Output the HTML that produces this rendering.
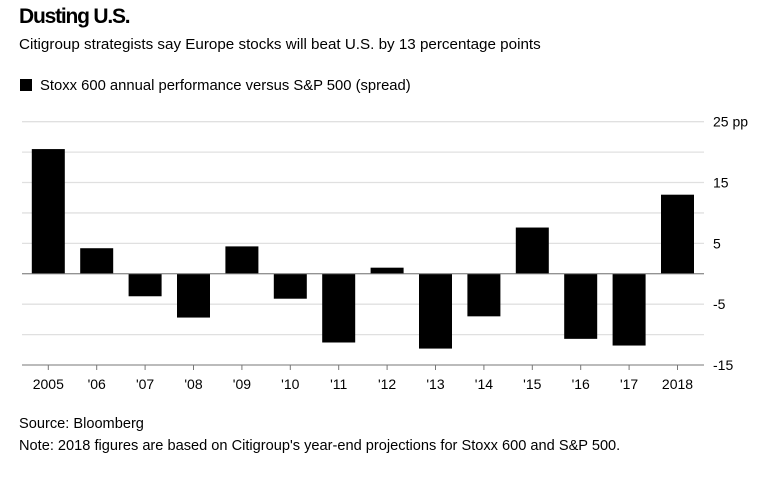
<!DOCTYPE html>
<html><head><meta charset="utf-8"><style>
body{margin:0;background:#fff;font-family:"Liberation Sans",sans-serif;color:#000;}
#wrap{position:relative;width:768px;height:479px;overflow:hidden;}
.t{position:absolute;white-space:nowrap;}
</style></head><body>
<div id="wrap">
<div class="t" style="left:19px;top:5px;font-size:21px;font-weight:bold;letter-spacing:-1.2px;">Dusting U.S.</div>
<div class="t" style="left:19px;top:36px;font-size:15.2px;">Citigroup strategists say Europe stocks will beat U.S. by 13 percentage points</div>
<div class="t" style="left:20px;top:78px;font-size:14.8px;"><span style="display:inline-block;width:12px;height:12px;background:#000;vertical-align:-1px;margin-right:8px;"></span>Stoxx 600 annual performance versus S&amp;P 500 (spread)</div>
<svg id="chart" width="768" height="479" style="position:absolute;left:0;top:0;"></svg>
<div class="t" style="left:19px;top:416px;font-size:14.6px;">Source: Bloomberg</div>
<div class="t" style="left:19px;top:438px;font-size:14.6px;">Note: 2018 figures are based on Citigroup's year-end projections for Stoxx 600 and S&amp;P 500.</div>
</div>
<script>
const categories=["2005","'06","'07","'08","'09","'10","'11","'12","'13","'14","'15","'16","'17","2018"];
const values=[20.5,4.2,-3.7,-7.2,4.5,-4.1,-11.3,1.0,-12.3,-7.0,7.6,-10.7,-11.8,13.0];
const tickLabels=["25 pp","15","5","-5","-15"];
const tickValues=[25,15,5,-5,-15];
const NS="http://www.w3.org/2000/svg";
const svg=document.getElementById('chart');
const x0=22,x1=704,yTop=121.7,yBot=365,vMax=25,vMin=-15;
function y(v){return yTop+(vMax-v)/(vMax-vMin)*(yBot-yTop);}
function xc(i){return 48.3+i*48.4;}
function el(t,a){const e=document.createElementNS(NS,t);for(const k in a)e.setAttribute(k,a[k]);svg.appendChild(e);return e;}
for(let v=vMin+5;v<=vMax;v+=5){
  const g=el('line',{x1:x0,x2:x1,y1:y(v),y2:y(v),stroke:'#e0e0e0','stroke-width':1.3});
  
  
}
tickValues.forEach((v,i)=>{
  const t=el('text',{x:713,y:y(v)+5,'font-size':14,'font-family':'Liberation Sans, sans-serif'});
  t.textContent=tickLabels[i];
  
  
});
values.forEach((v,i)=>{
  const r=el('rect',{x:xc(i)-16.5,width:33,y:Math.min(y(v),y(0)),height:Math.abs(y(v)-y(0)),fill:'#000'});
  
  
});
const z=el('line',{x1:x0,x2:x1,y1:y(0),y2:y(0),stroke:'#777','stroke-width':1});


const ax=el('line',{x1:x0,x2:x1,y1:yBot,y2:yBot,stroke:'#777','stroke-width':1});


categories.forEach((c,i)=>{
  const tk=el('line',{x1:xc(i),x2:xc(i),y1:yBot,y2:yBot+5,stroke:'#777'});
  
  
  const t=el('text',{x:xc(i),y:yBot+24,'font-size':14,'text-anchor':'middle','font-family':'Liberation Sans, sans-serif'});
  t.textContent=c;
  
  
});
</script>
</body></html>
